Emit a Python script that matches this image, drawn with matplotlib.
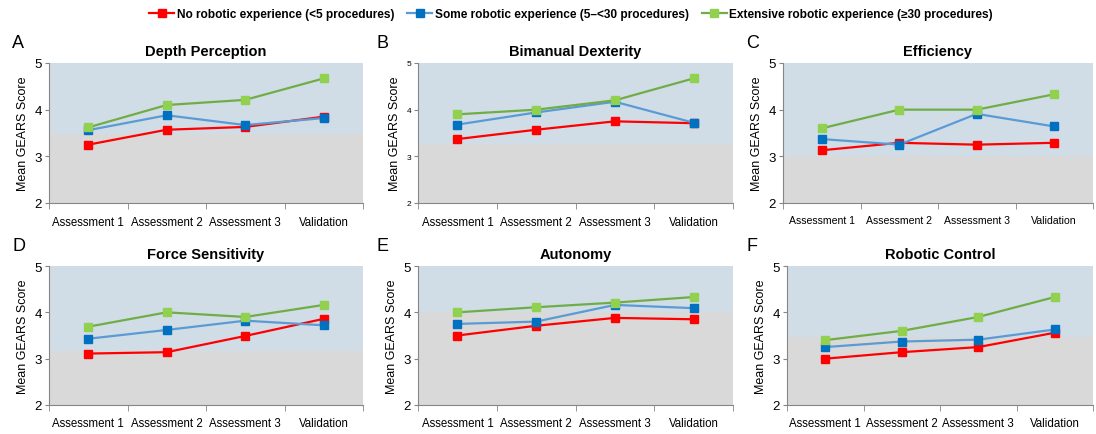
import numpy as np
import matplotlib
matplotlib.use("Agg")
import matplotlib.pyplot as plt
from matplotlib.lines import Line2D

plt.rcParams['font.family'] = ['Liberation Sans', 'DejaVu Sans']

# data
stages = ["Assessment 1", "Assessment 2", "Assessment 3", "Validation"]
panels = ["A", "B", "C", "D", "E", "F"]
titles = ["Depth Perception", "Bimanual Dexterity", "Efficiency",
          "Force Sensitivity", "Autonomy", "Robotic Control"]
groups = ["No robotic experience (<5 procedures)",
          "Some robotic experience (5\u2013<30 procedures)",
          "Extensive robotic experience (\u226530 procedures)"]

# shaded threshold level per panel (grey below, blue above)
thresholds = [3.47, 3.26, 3.0, 3.17, 4.0, 3.46]

novice = [
    [3.25, 3.57, 3.63, 3.85],
    [3.37, 3.57, 3.75, 3.71],
    [3.13, 3.29, 3.25, 3.29],
    [3.11, 3.14, 3.49, 3.86],
    [3.50, 3.71, 3.88, 3.85],
    [3.00, 3.14, 3.25, 3.56],
]
intermediate = [
    [3.56, 3.88, 3.67, 3.82],
    [3.68, 3.94, 4.17, 3.72],
    [3.37, 3.25, 3.91, 3.64],
    [3.43, 3.62, 3.82, 3.72],
    [3.75, 3.80, 4.16, 4.09],
    [3.25, 3.37, 3.41, 3.63],
]
expert = [
    [3.62, 4.10, 4.21, 4.67],
    [3.90, 4.00, 4.20, 4.67],
    [3.60, 4.00, 4.00, 4.33],
    [3.69, 4.00, 3.90, 4.16],
    [4.00, 4.11, 4.21, 4.33],
    [3.40, 3.60, 3.90, 4.33],
]

line_colors = ["#ff0000", "#5b9bd5", "#70ad47"]
marker_colors = ["#ff0000", "#0070c0", "#92d050"]

W, H = 1096, 435
fig = plt.figure(figsize=(W / 100, H / 100), dpi=100)

# axes boxes in pixels: left, right, top, bottom
boxes = [(49, 363, 64, 204), (418, 733, 64, 204), (783, 1093, 64, 204),
         (49, 363, 267, 406), (418, 733, 267, 406), (787, 1093, 267, 406)]
letter_x = [12, 377, 746, 12, 377, 746]
ytick_size = [9.5, 6, 9.5, 9.5, 9.5, 9.5]
xtick_size = [8.3, 8.3, 7.6, 8.3, 8.3, 8.3]

x = np.arange(len(stages))
for i in range(6):
    l, r, t, b = boxes[i]
    ax = fig.add_axes([l / W, 1 - b / H, (r - l) / W, (b - t) / H])
    ax.set_facecolor("#d9d9d9")
    ax.axhspan(thresholds[i], 5, color="#d0dde6", zorder=0, lw=0)
    for series, lc, mc in zip([novice, intermediate, expert], line_colors, marker_colors):
        ax.plot(x, series[i], color=lc, lw=1.6, marker="s", ms=5.5,
                mfc=mc, mec=mc, zorder=3)
    ax.set_xlim(-0.5, 3.5)
    ax.set_ylim(2, 5)
    ax.set_yticks([2, 3, 4, 5])
    ax.set_xticks(x)
    ax.set_xticklabels(stages, fontsize=xtick_size[i])
    ax.set_xticks(np.arange(-0.5, 4, 1), minor=True)
    ax.tick_params(axis="x", which="major", length=0, pad=9)
    ax.tick_params(axis="x", which="minor", length=4, color="#868686")
    ax.tick_params(axis="y", labelsize=ytick_size[i], length=3, color="#868686", pad=2)
    for s in ["top", "right"]:
        ax.spines[s].set_visible(False)
    for s in ["left", "bottom"]:
        ax.spines[s].set_color("#868686")
    ax.set_ylabel("Mean GEARS Score", fontsize=9, labelpad=4)
    ax.set_title(titles[i], fontsize=10.5, fontweight="bold", pad=6)
    fig.text(letter_x[i] / W, 1 - (t - 20) / H, panels[i], fontsize=13,
             ha="left", va="center")

handles = [Line2D([0], [0], color=lc, lw=1.6, marker="s", ms=5.5, mfc=mc, mec=mc)
           for lc, mc in zip(line_colors, marker_colors)]
fig.legend(handles, groups, loc="center", bbox_to_anchor=(571 / W, 1 - 15 / H),
           ncol=3, frameon=False, handlelength=2.1, handletextpad=0.2,
           columnspacing=1.1, prop={"size": 8.6, "weight": "bold"})

fig.savefig("out.png", dpi=100)
